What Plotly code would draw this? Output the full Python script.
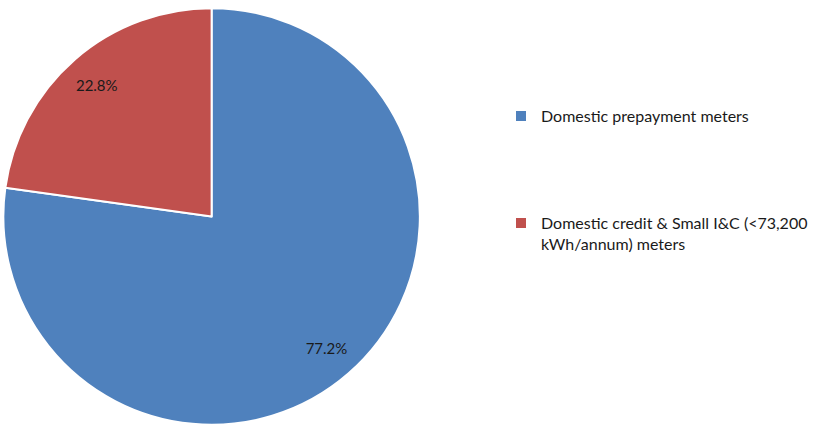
import plotly.graph_objects as go

# meter share data
labels = ["Domestic prepayment meters",
          "Domestic credit & Small I&C (<73,200<br>kWh/annum) meters"]
shares = [77.2, 22.8]
colors = ["#4F81BD", "#C0504D"]

W, H = 813, 425

# pad the first legend entry so the second one sits lower, like the original
legend_text = [labels[0] + "<br> <br> <br> <br>", labels[1]]
dom = dict(x=[3.5 / W, 436.5 / W], y=[0, 417 / H])

fig = go.Figure()
# full pie (carries the legend)
fig.add_trace(go.Pie(
    labels=legend_text,
    values=shares,
    marker=dict(colors=colors, line=dict(color="white", width=2)),
    sort=False,
    direction="clockwise",
    rotation=0,
    textinfo="none",
    hoverinfo="label+percent",
    domain=dom,
))
# invisible ring on top only to push the percentage labels out toward the rim
fig.add_trace(go.Pie(
    labels=legend_text,
    values=shares,
    hole=0.68,
    marker=dict(colors=["rgba(0,0,0,0)"] * 2, line=dict(width=0)),
    sort=False,
    direction="clockwise",
    rotation=0,
    texttemplate="%{value:.1f}%",
    textposition="inside",
    insidetextorientation="horizontal",
    textfont=dict(color="#1a1a1a", size=15, family="Lato"),
    hoverinfo="skip",
    showlegend=False,
    domain=dom,
))

fig.update_layout(
    width=W,
    height=H,
    margin=dict(t=0, b=0, l=0, r=0),
    paper_bgcolor="white",
    plot_bgcolor="white",
    font=dict(family="Lato", size=16, color="#1a1a1a"),
    showlegend=True,
    legend=dict(
        x=521 / W, y=1 - 99 / H,
        xanchor="left", yanchor="top",
        valign="top",
        itemsizing="constant",
        font=dict(size=16, family="Lato", color="#1a1a1a"),
        bgcolor="rgba(0,0,0,0)",
    ),
)

fig.write_html("out.html", config={"displayModeBar": False},
               post_script="document.body.style.margin='0';")
